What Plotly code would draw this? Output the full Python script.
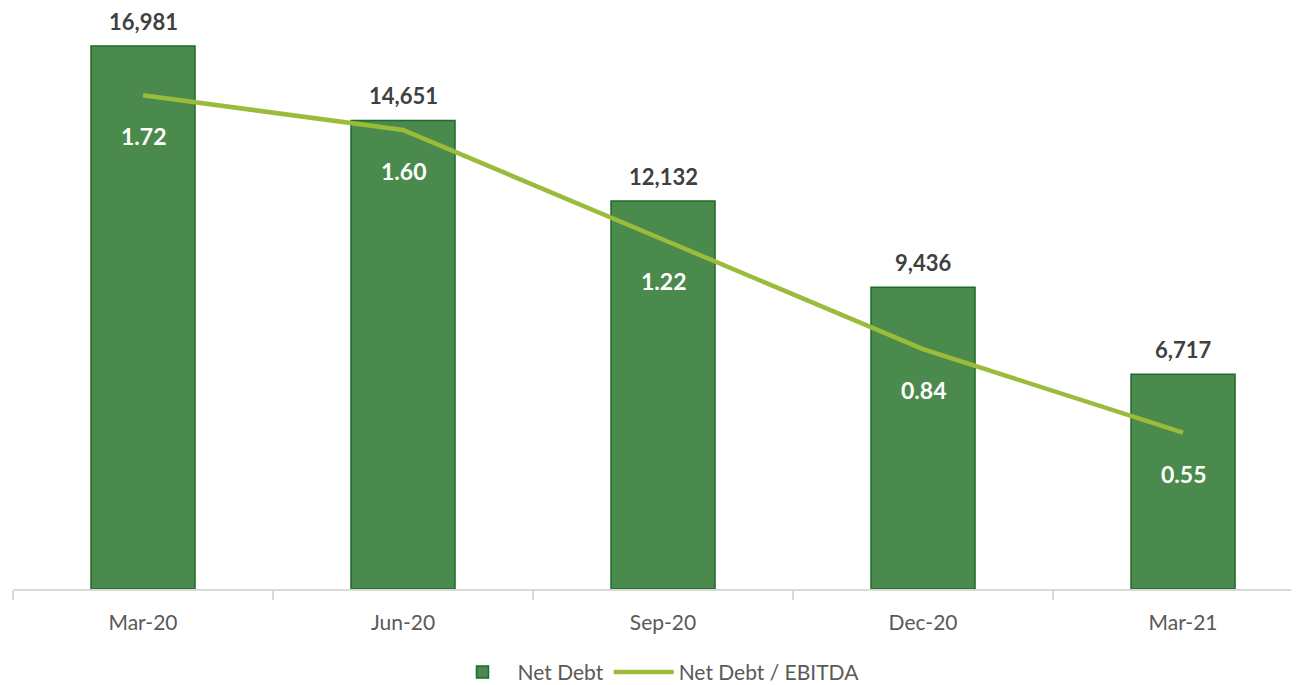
import plotly.graph_objects as go

categories = ["Mar-20", "Jun-20", "Sep-20", "Dec-20", "Mar-21"]
net_debt = [16981, 14651, 12132, 9436, 6717]
net_debt_ebitda = [1.72, 1.60, 1.22, 0.84, 0.55]

bar_fill = "#4A8A4C"
bar_edge = "#1E6B2A"
line_col = "#9BBB3B"
font_fam = "Lato, 'Open Sans', sans-serif"

fig = go.Figure()
fig.add_trace(go.Bar(
    x=categories, y=net_debt, name="Net Debt",
    marker=dict(color=bar_fill, line=dict(color=bar_edge, width=1.5)),
    width=0.4, hoverinfo="skip",
))
fig.add_trace(go.Scatter(
    x=categories, y=net_debt_ebitda, name="Net Debt / EBITDA", yaxis="y2",
    mode="lines", line=dict(color=line_col, width=4.5),
    hoverinfo="skip",
))

annotations = []
for c, v in zip(categories, net_debt):
    annotations.append(dict(
        x=c, y=v, xref="x", yref="y", text=f"{v:,}", showarrow=False,
        yshift=25, font=dict(family=font_fam, size=22, color="#404040", weight="bold"),
    ))
for c, v in zip(categories, net_debt_ebitda):
    annotations.append(dict(
        x=c, y=v, xref="x", yref="y2", text=f"{v:.2f}", showarrow=False,
        yshift=-41, font=dict(family=font_fam, size=23, color="#FFFFFF", weight="bold"),
    ))

fig.update_layout(
    width=1299, height=685,
    margin=dict(l=5, r=8, t=2, b=104, autoexpand=False),
    paper_bgcolor="white", plot_bgcolor="white",
    font=dict(family=font_fam, color="#595959"),
    showlegend=True,
    legend=dict(orientation="h", x=0.5, xanchor="center", yref="container", y=0.03,
                yanchor="middle",
                font=dict(size=21, color="#595959"), itemwidth=60, traceorder="normal"),
    xaxis=dict(
        range=[-0.5, 4.446], showgrid=False, showline=True, linecolor="#D9D9D9", linewidth=1.5,
        ticks="outside", tickson="boundaries", ticklen=9, tickcolor="#D9D9D9", tickwidth=1.5,
        tickfont=dict(size=21, color="#595959"), ticklabelstandoff=14, automargin=False,
    ),
    yaxis=dict(range=[0, 18107], visible=False, showgrid=False, zeroline=False),
    yaxis2=dict(range=[0.008, 2.016], overlaying="y", side="right", visible=False,
                showgrid=False, zeroline=False),
    annotations=annotations,
    bargap=0.6,
)

fig.write_html("out.html")
